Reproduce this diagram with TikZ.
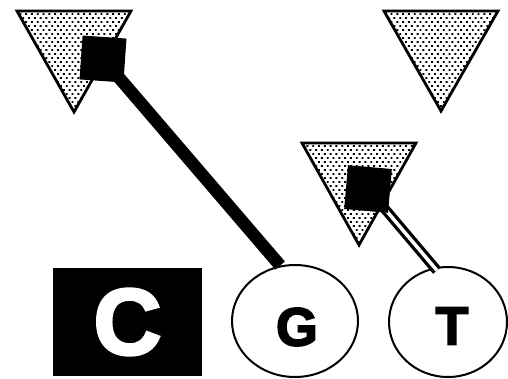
\documentclass[tikz,border=0pt]{standalone}
\usepackage{fontspec}
\setmainfont{Liberation Sans}
\newfontfamily\heavyfont{Liberation Sans}[BoldFont={Liberation Sans Bold}, BoldFeatures={FakeBold=3}]
\usetikzlibrary{shapes.geometric,patterns,calc}
\pgfdeclarelayer{fg}
\pgfsetlayers{main,fg}
\pgfdeclarepatternformonly{bigdots}{\pgfqpoint{-1pt}{-1pt}}{\pgfqpoint{7pt}{9pt}}{\pgfqpoint{5.8pt}{8pt}}{%
  \pgfpathrectangle{\pgfqpoint{-0.95pt}{-0.95pt}}{\pgfqpoint{1.9pt}{1.9pt}}%
  \pgfpathrectangle{\pgfqpoint{1.95pt}{3.05pt}}{\pgfqpoint{1.9pt}{1.9pt}}%
  \pgfusepath{fill}}
\tikzset{
  tri/.style={draw=black, line width=2.8pt, line join=miter, pattern=bigdots},
  sq/.style={fill=black, minimum size=44pt, inner sep=0pt},
  ell/.style={draw=black, line width=2pt, ellipse, fill=white, inner sep=0pt},
  letter/.style={font=\heavyfont\bfseries\fontsize{54}{54}\selectfont}
}
\begin{document}
\begin{tikzpicture}[x=1pt,y=-1pt]
\useasboundingbox (0,0) rectangle (508,378);
% triangles
\draw[tri] (17,11) -- (131,11) -- (74,112) -- cycle;
\draw[tri] (384,11) -- (498,11) -- (441,111) -- cycle;
\draw[tri] (302,143) -- (416,143) -- (359,245) -- cycle;
% nodes
\node[fill=black, minimum width=149pt, minimum height=108pt, inner sep=0pt, text=white,
      font=\heavyfont\bfseries\fontsize{94}{94}\selectfont] (c) at (127.5,322) {C};
\node[ell, minimum width=126pt, minimum height=112pt,
      label={[letter, xshift=2pt, yshift=-6pt]center:G}] (g) at (295,321) {};
\node[ell, minimum width=118pt, minimum height=110pt,
      label={[letter, xshift=4pt, yshift=-4pt]center:T}] (t) at (448,322) {};
\begin{pgfonlayer}{fg}
\node[sq, rotate=-4] (s1) at (103,59) {};
\node[sq, rotate=-5] (s3) at (368,189) {};
\end{pgfonlayer}
% connectors
\draw[line width=12.5pt] (s1.center) -- (g.105);
\draw[line width=3.3pt, double=white, double distance=3.5pt] (s3.center) -- ($(t.104)!-4pt!(s3.center)$);
\end{tikzpicture}
\end{document}
